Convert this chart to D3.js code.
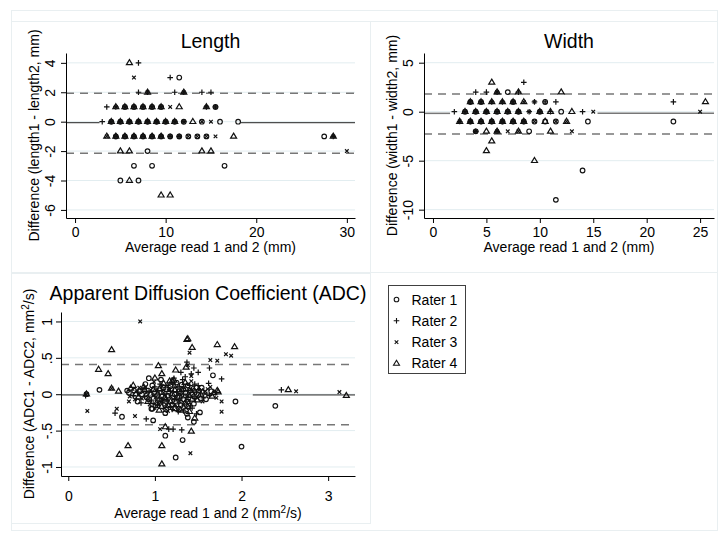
<!DOCTYPE html>
<html>
<head>
<meta charset="utf-8">
<script src="https://cdn.jsdelivr.net/npm/d3@7"></script>
<style>
body { margin: 0; background: #fff; }
text { font-family: "Liberation Sans", Arial, sans-serif; fill: #000; }
</style>
</head>
<body>
<div id="chart"></div>
<script>
// ---- data ----
var raters = ["Rater 1", "Rater 2", "Rater 3", "Rater 4"];

// each point: [average, difference, raters plotted at that spot]
var lengthXTicks = [0, 10, 20, 30];
var lengthYTicks = [-6, -4, -2, 0, 2, 4];
var lengthLines = [-0.07, 1.93, -2.15];   // mean, upper LoA, lower LoA
var lengthPoints = [
  [6, 4, "4"], [7, 4, "2"],
  [6.5, 3, "3"], [10.5, 3, "2"], [11.5, 3, "1"],
  [7, 2, "2"], [8, 2, "234"], [11, 2, "2"], [12, 2, "234"], [14, 2, "2"], [15, 2, "2"],
  [3.5, 1, "2"], [4.5, 1, "234"], [5.5, 1, "1234"], [6.5, 1, "1234"], [7.5, 1, "1234"], [8.5, 1, "1234"],
  [9.5, 1, "1234"], [10.5, 1, "3"], [11.5, 1, "4"], [14.5, 1, "234"], [15.5, 1, "123"],
  [3, 0, "2"], [4, 0, "1234"], [5, 0, "1234"], [6, 0, "1234"], [7, 0, "1234"], [8, 0, "1234"], [9, 0, "1234"],
  [10, 0, "1234"], [11, 0, "1234"], [12, 0, "123"], [13, 0, "4"], [14, 0, "13"], [15, 0, "3"], [16, 0, "1"], [18, 0, "1"],
  [3.5, -1, "34"], [4.5, -1, "1234"], [5.5, -1, "1234"], [6.5, -1, "1234"], [7.5, -1, "1234"], [8.5, -1, "1234"],
  [9.5, -1, "1234"], [10.5, -1, "123"], [11.5, -1, "123"], [12.5, -1, "13"], [13.5, -1, "13"], [14.5, -1, "13"],
  [15.5, -1, "3"], [17.5, -1, "4"], [27.5, -1, "1"], [28.5, -1, "234"],
  [5, -2, "4"], [6, -2, "4"], [8, -2, "1"], [14, -2, "4"], [15, -2, "4"], [30, -2, "3"],
  [6.5, -3, "1"], [8.5, -3, "1"], [16.5, -3, "1"],
  [5, -4, "1"], [6, -4, "4"], [7, -4, "1"],
  [9.5, -5, "4"], [10.5, -5, "4"]
];

var widthXTicks = [0, 5, 10, 15, 20, 25];
var widthYTicks = [-10, -5, 0, 5];
var widthLines = [-0.17, 1.8, -2.28];
var widthPoints = [
  [5.5, 3, "4"], [8.5, 3, "2"],
  [4, 2, "2"], [5, 2, "2"], [6, 2, "234"], [7, 2, "1"], [8, 2, "24"], [12, 2, "4"],
  [3.5, 1, "1234"], [4.5, 1, "1234"], [5.5, 1, "234"], [6.5, 1, "234"], [7.5, 1, "1234"], [8.5, 1, "34"],
  [9.5, 1, "23"], [10.5, 1, "12"], [11.5, 1, "2"], [22.5, 1, "2"], [25.5, 1, "4"],
  [2, 0, "2"], [3, 0, "1234"], [4, 0, "1234"], [5, 0, "1234"], [6, 0, "1234"], [7, 0, "1234"], [8, 0, "1234"],
  [9, 0, "23"], [10, 0, "1234"], [11, 0, "24"], [12, 0, "1"], [13, 0, "4"], [14, 0, "2"], [15, 0, "3"], [25, 0, "3"],
  [2.5, -1, "234"], [3.5, -1, "1234"], [4.5, -1, "1234"], [5.5, -1, "1234"], [6.5, -1, "1234"], [7.5, -1, "1234"],
  [8.5, -1, "1234"], [9.5, -1, "13"], [10.5, -1, "14"], [11.5, -1, "13"], [12.5, -1, "34"], [14.5, -1, "1"], [22.5, -1, "1"],
  [4, -2, "123"], [5, -2, "4"], [6, -2, "234"], [7, -2, "3"], [8, -2, "34"], [9, -2, "1"], [11, -2, "4"], [13, -2, "3"],
  [5.5, -3, "4"], [5, -4, "4"], [9.5, -5, "4"], [14, -6, "1"], [11.5, -9, "1"]
];

var adcXTicks = [0, 1, 2, 3];
var adcYTicks = [-1, -0.5, 0, 0.5, 1];
var adcYLabels = ["-1", "-.5", "0", ".5", "1"];
var adcLines = [-0.01, 0.41, -0.42];
var adcPoints = [
  // scattered points
  [0.21, 0.0, "134"], [0.36, 0.06, "1"], [0.62, -0.31, "1"], [0.98, -0.36, "1"], [0.93, 0.22, "1"], [1.12, -0.57, "1"],
  [1.24, -0.87, "1"], [1.32, -0.63, "1"], [1.67, 0.26, "1"], [1.93, -0.1, "1"], [2.0, -0.72, "1"], [2.39, -0.16, "1"],
  [1.45, -0.38, "1"], [1.52, -0.25, "1"], [1.38, -0.32, "1"], [0.68, 0.05, "1"], [0.97, -0.2, "1"],
  [0.2, -0.02, "2"], [0.54, -0.26, "2"], [0.9, -0.34, "2"], [1.16, -0.48, "2"], [1.21, -0.48, "2"], [1.31, -0.49, "2"],
  [1.37, 0.44, "2"], [1.45, 0.36, "2"], [1.63, 0.36, "2"], [1.77, 0.21, "2"], [2.46, 0.06, "2"], [1.42, 0.28, "2"],
  [1.5, 0.3, "2"], [1.3, 0.3, "2"], [1.35, 0.24, "2"], [1.22, 0.22, "2"], [1.62, 0.15, "2"], [1.48, -0.27, "2"],
  [0.83, 1.0, "3"], [0.22, -0.23, "3"], [0.56, -0.2, "3"], [0.77, -0.3, "3"], [0.7, -0.1, "3"], [1.06, -0.48, "3"],
  [1.41, -0.81, "3"], [1.4, 0.57, "3"], [1.72, 0.46, "3"], [1.82, 0.55, "3"], [1.88, 0.53, "3"], [1.77, -0.1, "3"],
  [1.77, -0.24, "3"], [2.63, 0.04, "3"], [3.13, 0.03, "3"], [1.38, 0.4, "3"], [1.42, 0.25, "3"], [1.64, 0.47, "3"],
  [0.35, 0.34, "4"], [0.46, 0.28, "4"], [0.5, 0.61, "4"], [0.5, 0.08, "34"], [0.58, 0.04, "4"], [0.59, -0.83, "4"],
  [0.69, -0.71, "4"], [1.04, 0.39, "4"], [1.08, 0.28, "4"], [1.24, 0.33, "4"], [1.12, -0.45, "4"], [1.08, -0.71, "4"],
  [1.08, -0.96, "4"], [1.42, -0.51, "4"], [1.37, 0.75, "4"], [1.38, 0.76, "4"], [1.43, 0.64, "4"], [1.72, 0.68, "4"],
  [1.92, 0.65, "4"], [1.36, 0.37, "4"], [2.54, 0.06, "4"], [3.21, -0.02, "4"], [1.46, -0.33, "4"], [1.2, 0.18, "4"],
  [1.73, 0.03, "4"],
  // dense cloud around 1
  [0.70, 0.02, "1"], [0.71, -0.03, "3"], [0.72, 0.08, "4"],
  [0.75, 0.12, "4"], [0.75, -0.02, "2"], [0.76, 0.05, "1"], [0.77, -0.07, "3"],
  [0.80, 0.03, "2"], [0.81, -0.04, "4"], [0.82, 0.09, "3"], [0.80, -0.1, "1"],
  [0.85, 0.0, "1"], [0.86, 0.06, "2"], [0.85, -0.06, "3"], [0.87, 0.1, "4"], [0.84, -0.12, "2"],
  [0.90, 0.02, "3"], [0.91, -0.05, "1"], [0.90, 0.08, "2"], [0.92, -0.1, "4"], [0.89, 0.14, "1"],
  [0.95, 0.0, "4"], [0.96, -0.08, "2"], [0.95, 0.06, "3"], [0.97, 0.12, "1"], [0.94, -0.14, "3"], [0.96, -0.2, "1"],
  [1.00, 0.03, "1"], [1.01, -0.04, "3"], [1.00, 0.1, "2"], [1.02, -0.12, "4"], [0.99, 0.17, "3"], [1.01, -0.18, "2"], [1.0, 0.22, "4"],
  [1.05, 0.0, "2"], [1.06, -0.07, "1"], [1.05, 0.07, "4"], [1.04, -0.14, "3"], [1.06, 0.14, "2"], [1.05, -0.22, "4"], [1.07, 0.2, "1"],
  [1.10, 0.02, "3"], [1.11, -0.05, "4"], [1.10, 0.09, "1"], [1.09, -0.12, "2"], [1.11, -0.19, "3"], [1.10, 0.15, "4"], [1.12, -0.26, "1"],
  [1.15, -0.02, "1"], [1.16, 0.05, "3"], [1.14, -0.09, "2"], [1.15, 0.12, "2"], [1.16, -0.16, "4"], [1.15, -0.23, "3"], [1.17, 0.18, "4"],
  [1.20, 0.0, "4"], [1.21, -0.07, "3"], [1.19, 0.07, "1"], [1.20, -0.14, "1"], [1.21, 0.14, "2"], [1.2, -0.21, "2"], [1.22, 0.19, "4"],
  [1.25, 0.03, "2"], [1.26, -0.04, "1"], [1.24, -0.11, "4"], [1.25, 0.1, "3"], [1.26, -0.18, "3"], [1.25, 0.16, "1"], [1.27, -0.24, "2"],
  [1.30, -0.01, "3"], [1.31, 0.06, "4"], [1.29, -0.08, "2"], [1.30, -0.15, "1"], [1.31, 0.13, "1"], [1.3, -0.22, "4"], [1.32, 0.2, "2"],
  [1.35, 0.02, "1"], [1.36, -0.05, "2"], [1.34, 0.09, "3"], [1.35, -0.12, "4"], [1.36, -0.19, "3"], [1.35, 0.16, "4"], [1.37, -0.27, "1"],
  [1.40, -0.02, "4"], [1.41, 0.05, "1"], [1.39, -0.09, "3"], [1.40, 0.12, "2"], [1.41, -0.16, "2"], [1.4, -0.24, "4"], [1.42, 0.18, "3"],
  [1.45, 0.01, "3"], [1.46, -0.06, "2"], [1.44, 0.08, "4"], [1.45, -0.13, "1"], [1.46, 0.14, "2"],
  [1.50, -0.01, "1"], [1.51, 0.06, "3"], [1.49, -0.08, "4"], [1.50, 0.12, "2"],
  [1.55, 0.03, "4"], [1.56, -0.05, "2"], [1.54, 0.09, "1"], [1.55, -0.1, "3"],
  [1.60, 0.0, "2"], [1.61, 0.07, "3"], [1.59, -0.07, "1"],
  [1.65, 0.04, "1"], [1.66, -0.03, "4"], [1.64, 0.1, "3"],
  [1.70, 0.02, "2"], [1.71, -0.05, "3"], [1.72, 0.05, "4"],
  // the darkest core of the cloud
  [0.78, 0.0, "4"], [0.83, 0.04, "1"], [0.88, -0.03, "2"], [0.88, 0.06, "4"], [0.93, 0.03, "2"], [0.93, -0.07, "1"],
  [0.98, -0.02, "3"], [0.98, 0.06, "4"], [0.98, -0.13, "2"],
  [1.03, 0.0, "4"], [1.03, 0.06, "3"], [1.03, -0.08, "1"], [1.03, -0.15, "2"],
  [1.08, -0.03, "1"], [1.08, 0.05, "2"], [1.08, -0.1, "3"], [1.08, -0.17, "4"], [1.08, 0.11, "3"],
  [1.13, 0.0, "2"], [1.13, -0.07, "4"], [1.13, 0.07, "1"], [1.13, -0.14, "3"], [1.13, -0.21, "1"],
  [1.18, -0.03, "3"], [1.18, 0.04, "2"], [1.18, -0.1, "4"], [1.18, -0.17, "2"], [1.18, 0.11, "1"],
  [1.23, 0.0, "1"], [1.23, -0.07, "2"], [1.23, 0.06, "4"], [1.23, -0.14, "3"], [1.23, -0.2, "4"],
  [1.28, -0.03, "4"], [1.28, 0.04, "1"], [1.28, -0.1, "3"], [1.28, 0.1, "2"], [1.28, -0.2, "1"],
  [1.33, 0.0, "2"], [1.33, -0.07, "1"], [1.33, 0.07, "4"], [1.33, -0.14, "3"], [1.33, -0.23, "2"],
  [1.38, -0.02, "3"], [1.38, 0.05, "2"], [1.38, -0.1, "1"], [1.38, -0.17, "4"], [1.38, 0.12, "1"],
  [1.43, 0.0, "1"], [1.43, -0.07, "4"], [1.43, 0.06, "3"], [1.43, -0.19, "2"],
  [1.48, 0.03, "2"], [1.48, -0.04, "3"], [1.48, 0.09, "1"],
  [1.53, 0.0, "4"], [1.53, -0.06, "1"], [1.58, 0.04, "3"], [1.63, -0.02, "2"], [1.68, 0.02, "4"]
];

// ---- drawing ----
var svg = d3.select("#chart").append("svg")
    .attr("width", 718)
    .attr("height", 534);

// faint Stata-style region frames
var frames = [[11.5, 10.5, 706, 520], [11.5, 21.5, 359, 251], [370.5, 21.5, 347, 251], [11.5, 273.5, 359, 250]];
svg.selectAll("rect.frame").data(frames).enter().append("rect")
    .attr("x", d => d[0]).attr("y", d => d[1])
    .attr("width", d => d[2]).attr("height", d => d[3])
    .attr("fill", "none").attr("stroke", "#e9eff1");

function markerPath(r) {
  if (r === "1") return "M2.3,0A2.3,2.3 0 1,1 -2.3,0A2.3,2.3 0 1,1 2.3,0";
  if (r === "2") return "M-2.8,0H2.8M0,-2.8V2.8";
  if (r === "3") return "M-1.8,-1.8L1.8,1.8M-1.8,1.8L1.8,-1.8";
  return "M0,-3.2L3,1.8L-3,1.8Z";
}

// text with an optional superscript 2 (after "mm")
function addText(sel, str) {
  var parts = str.split("^2");
  sel.append("tspan").text(parts[0]);
  if (parts.length > 1) {
    sel.append("tspan").attr("dy", -5).attr("font-size", 10).text("2");
    sel.append("tspan").attr("dy", 5).text(parts[1]);
  }
}

function drawPanel(c) {
  var x = d3.scaleLinear().domain(c.xDomain).range([c.left, c.right]);
  var y = d3.scaleLinear().domain(c.yDomain).range([c.bottom, c.top]);
  var g = svg.append("g");

  g.selectAll("line.grid").data(c.yTicks).enter().append("line")
      .attr("x1", c.left).attr("x2", c.right)
      .attr("y1", d => y(d)).attr("y2", d => y(d))
      .attr("stroke", "#e2edf0");

  // mean difference, hidden behind the marker cloud
  var segs = [[c.xDomain[0], c.gap[0]], [c.gap[1], c.xDomain[1]]];
  g.selectAll("line.mean").data(segs).enter().append("line")
      .attr("x1", d => x(d[0])).attr("x2", d => x(d[1]))
      .attr("y1", y(c.lines[0])).attr("y2", y(c.lines[0]))
      .attr("stroke", c.meanColor).attr("stroke-width", c.meanWidth);

  // limits of agreement
  g.selectAll("line.loa").data(c.lines.slice(1)).enter().append("line")
      .attr("x1", c.left).attr("x2", c.right)
      .attr("y1", d => y(d)).attr("y2", d => y(d))
      .attr("stroke", "#777").attr("stroke-width", 1.5)
      .attr("stroke-dasharray", "8,6");

  var xa = g.append("g").attr("transform", "translate(0," + c.bottom + ")")
      .call(d3.axisBottom(x).tickValues(c.xTicks).tickSize(5).tickSizeOuter(0)
        .tickFormat(d => String(d)));
  xa.selectAll("text").attr("y", c.xLabOff).attr("dy", null);

  var ya = g.append("g").attr("transform", "translate(" + c.left + ",0)")
      .call(d3.axisLeft(y).tickValues(c.yTicks).tickSize(5).tickSizeOuter(0)
        .tickFormat((d, i) => c.yLabels ? c.yLabels[i] : String(d)));
  ya.selectAll("text")
      .attr("x", null).attr("dy", null)
      .attr("text-anchor", "middle")
      .attr("transform", "translate(" + (-c.yLabOff) + ",0) rotate(-90)");

  g.selectAll(".domain, .tick line").attr("stroke", "#000");
  g.selectAll(".tick text").attr("font-size", 14).attr("font-family", null).attr("fill", "#000");

  // markers, one per rater at each spot
  var marks = [];
  c.points.forEach(p => p[2].split("").forEach(r => marks.push({x: p[0], y: p[1], r: r})));
  marks.sort((a, b) => a.r - b.r);
  g.selectAll("path.mk").data(marks).enter().append("path")
      .attr("d", d => markerPath(d.r))
      .attr("transform", d => "translate(" + x(d.x) + "," + y(d.y) + ")")
      .attr("fill", "none").attr("stroke", "#111").attr("stroke-width", 1.2);

  g.append("text")
      .attr("x", (c.left + c.right) / 2).attr("y", c.titleY)
      .attr("text-anchor", "middle").attr("font-size", 19.5)
      .text(c.title);

  addText(g.append("text")
      .attr("x", (c.left + c.right) / 2).attr("y", c.bottom + c.xTitleOff)
      .attr("text-anchor", "middle").attr("font-size", 14), c.xTitle);

  addText(g.append("text")
      .attr("transform", "translate(" + (c.left - 27) + "," + (c.top + c.bottom) / 2 + ") rotate(-90)")
      .attr("text-anchor", "middle").attr("font-size", 14), c.yTitle);
}

drawPanel({
  title: "Length", titleY: 48,
  left: 66, right: 355, top: 53, bottom: 218,
  xDomain: [-1, 30.9], yDomain: [-6.55, 4.67],
  xTicks: lengthXTicks, yTicks: lengthYTicks,
  lines: lengthLines, gap: [2.7, 18.3], meanColor: "#222", meanWidth: 1,
  points: lengthPoints, xLabOff: 19, yLabOff: 11, xTitleOff: 34,
  xTitle: "Average read 1 and 2 (mm)", yTitle: "Difference (length1 - length2, mm)"
});

drawPanel({
  title: "Width", titleY: 48,
  left: 424, right: 714, top: 53, bottom: 218,
  xDomain: [-0.84, 26.3], yDomain: [-10.85, 5.99],
  xTicks: widthXTicks, yTicks: widthYTicks,
  lines: widthLines, gap: [1.6, 15.4], meanColor: "#777", meanWidth: 1.5,
  points: widthPoints, xLabOff: 19, yLabOff: 11, xTitleOff: 34,
  xTitle: "Average read 1 and 2 (mm)", yTitle: "Difference (width1 - width2, mm)"
});

drawPanel({
  title: "Apparent Diffusion Coefficient (ADC)", titleY: 300,
  left: 61, right: 355, top: 312, bottom: 476,
  xDomain: [-0.084, 3.31], yDomain: [-1.124, 1.13],
  xTicks: adcXTicks, yTicks: adcYTicks, yLabels: adcYLabels,
  lines: adcLines, gap: [0.17, 2.13], meanColor: "#222", meanWidth: 1,
  points: adcPoints, xLabOff: 25, yLabOff: 9, xTitleOff: 42,
  xTitle: "Average read 1 and 2 (mm^2/s)", yTitle: "Difference (ADC1 - ADC2, mm^2/s)"
});

// legend
var legend = svg.append("g").attr("transform", "translate(388.5,285.5)");
legend.append("rect").attr("width", 77).attr("height", 88)
    .attr("fill", "#fff").attr("stroke", "#404040");
var items = legend.selectAll("g.item").data(raters).enter().append("g")
    .attr("transform", (d, i) => "translate(8," + (14 + i * 21.3) + ")");
items.append("path")
    .attr("d", (d, i) => markerPath(String(i + 1)))
    .attr("fill", "none").attr("stroke", "#111").attr("stroke-width", 1.1);
items.append("text").attr("x", 15).attr("y", 5)
    .attr("font-size", 14).text(d => d);
</script>
</body>
</html>
